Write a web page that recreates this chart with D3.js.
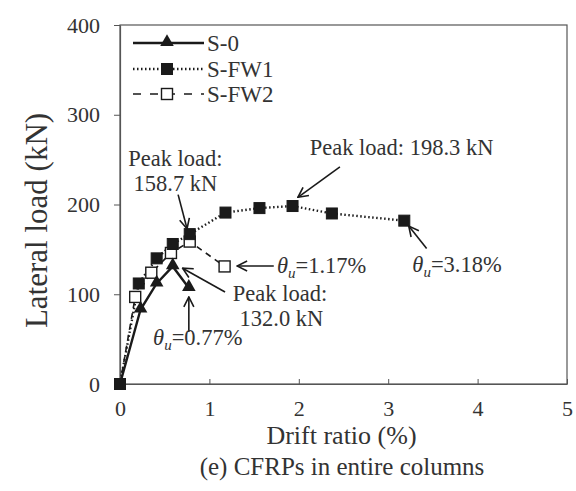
<!DOCTYPE html>
<html>
<head>
<meta charset="utf-8">
<script src="https://cdn.jsdelivr.net/npm/d3@7"></script>
<style>
  body { margin: 0; background: #fff; }
  svg text { font-family: "Liberation Serif", "Times New Roman", serif; fill: #333; }
</style>
</head>
<body>
<script>
'use strict';

// drift ratio (%) and lateral load (kN)
const s0Drift = [0, 0.23, 0.41, 0.59, 0.77];
const s0Load = [0, 83, 112, 131, 107];

const fw1Drift = [0, 0.21, 0.41, 0.59, 0.78, 1.18, 1.56, 1.93, 2.37, 3.18];
const fw1Load = [0, 112, 140, 156, 167, 191, 196, 198.3, 190, 182];

const fw2Drift = [0, 0.17, 0.35, 0.57, 0.78, 1.17];
const fw2Load = [0, 97, 124, 146, 158.7, 131];

const xTicks = [0, 1, 2, 3, 4, 5];
const yTicks = [0, 100, 200, 300, 400];

const seriesNames = ['S-0', 'S-FW1', 'S-FW2'];

const W = 576, H = 491;
const ink = '#1a1a1a';
const serif = '"Liberation Serif", "Times New Roman", serif';

const svg = d3.select('body').append('svg')
  .attr('width', W)
  .attr('height', H)
  .attr('font-family', serif);

const x = d3.scaleLinear().domain([0, 5]).range([120, 567]);
const y = d3.scaleLinear().domain([0, 400]).range([384, 25]);

// open arrowhead
svg.append('defs').append('marker')
  .attr('id', 'arr')
  .attr('viewBox', '0 0 12 12')
  .attr('refX', 11).attr('refY', 6)
  .attr('markerWidth', 12).attr('markerHeight', 12)
  .attr('markerUnits', 'userSpaceOnUse')
  .attr('orient', 'auto')
  .append('path')
  .attr('d', 'M1,1 L11,6 L1,11')
  .attr('fill', 'none')
  .attr('stroke', ink)
  .attr('stroke-width', 1.6);

// frame
svg.append('rect')
  .attr('x', x(0)).attr('y', y(400))
  .attr('width', x(5) - x(0)).attr('height', y(0) - y(400))
  .attr('fill', 'none').attr('stroke', '#555').attr('stroke-width', 1.2);

// x axis, ticks pointing inward
const xAxis = svg.append('g')
  .attr('transform', `translate(0,${y(0)})`)
  .call(d3.axisBottom(x).tickValues(xTicks).tickFormat(d3.format('d'))
    .tickSizeInner(-5).tickSizeOuter(0).tickPadding(16));
xAxis.attr('font-family', serif);
xAxis.select('.domain').attr('stroke', '#555').attr('stroke-width', 1.2);
xAxis.selectAll('line').attr('stroke', '#555');
xAxis.selectAll('text').style('font-size', '22px').attr('fill', '#333');

// y axis, ticks pointing outward
const yAxis = svg.append('g')
  .attr('transform', `translate(${x(0)},0)`)
  .call(d3.axisLeft(y).tickValues(yTicks).tickFormat(d3.format('d'))
    .tickSizeInner(6).tickSizeOuter(0).tickPadding(14));
yAxis.attr('font-family', serif);
yAxis.select('.domain').attr('stroke', '#555').attr('stroke-width', 1.2);
yAxis.selectAll('line').attr('stroke', '#555');
yAxis.selectAll('text').style('font-size', '22px').attr('fill', '#333');

// axis titles
svg.append('text')
  .attr('x', (x(0) + x(5)) / 2 - 2).attr('y', 444)
  .attr('text-anchor', 'middle')
  .style('font-size', '26px')
  .text('Drift ratio (%)');

svg.append('text')
  .attr('transform', `translate(47,${(y(0) + y(400)) / 2 + 16})rotate(-90)`)
  .attr('text-anchor', 'middle')
  .style('font-size', '31px')
  .text('Lateral load (kN)');

svg.append('text')
  .attr('x', 342).attr('y', 475)
  .attr('text-anchor', 'middle')
  .style('font-size', '25px')
  .text('(e) CFRPs in entire columns');

// series
function pts(xs, ys) { return xs.map((d, i) => [d, ys[i]]); }
const line = d3.line().x(d => x(d[0])).y(d => y(d[1]));

const s0 = pts(s0Drift, s0Load);
const fw1 = pts(fw1Drift, fw1Load);
const fw2 = pts(fw2Drift, fw2Load);

svg.append('path').datum(fw2).attr('d', line)
  .attr('fill', 'none').attr('stroke', ink).attr('stroke-width', 1.6)
  .attr('stroke-dasharray', '6,5');
svg.append('path').datum(fw1).attr('d', line)
  .attr('fill', 'none').attr('stroke', ink).attr('stroke-width', 2.4)
  .attr('stroke-dasharray', '1.5,2.5');
svg.append('path').datum(s0).attr('d', line)
  .attr('fill', 'none').attr('stroke', ink).attr('stroke-width', 2.4);

const sq = 11;
function squares(data, filled) {
  svg.append('g').selectAll('rect').data(data).enter().append('rect')
    .attr('x', d => x(d[0]) - sq / 2)
    .attr('y', d => y(d[1]) - sq / 2)
    .attr('width', sq).attr('height', sq)
    .attr('fill', filled ? ink : '#fff')
    .attr('stroke', ink).attr('stroke-width', filled ? 1 : 1.4);
}
const tri = d3.symbol().type(d3.symbolTriangle).size(80);

squares(fw2.slice(1), false);
squares(fw1, true);
svg.append('g').selectAll('path').data(s0.slice(1)).enter().append('path')
  .attr('d', tri)
  .attr('transform', d => `translate(${x(d[0])},${y(d[1]) - 1})`)
  .attr('fill', ink);

// legend
const legRows = [43, 69, 94];
const lg = svg.append('g');
seriesNames.forEach((name, i) => {
  const ly = legRows[i];
  const ln = lg.append('line')
    .attr('x1', 133).attr('x2', 204).attr('y1', ly).attr('y2', ly)
    .attr('stroke', ink);
  if (i === 0) ln.attr('stroke-width', 2.4);
  if (i === 1) ln.attr('stroke-width', 2.4).attr('stroke-dasharray', '1.5,2.5');
  if (i === 2) ln.attr('stroke-width', 1.6).attr('stroke-dasharray', '8,9');
  if (i === 0) {
    lg.append('path').attr('d', tri).attr('transform', `translate(167,${ly - 1})`).attr('fill', ink);
  } else {
    lg.append('rect')
      .attr('x', 167 - sq / 2).attr('y', ly - sq / 2)
      .attr('width', sq).attr('height', sq)
      .attr('fill', i === 1 ? ink : '#fff')
      .attr('stroke', ink).attr('stroke-width', i === 1 ? 1 : 1.4);
  }
  lg.append('text')
    .attr('x', 207).attr('y', ly + 8)
    .style('font-size', '23px')
    .text(name);
});

// annotations (positions in data units)
const arrows = [
  [0.65, 211, 0.75, 173],
  [2.46, 242, 1.99, 208],
  [3.43, 151, 3.23, 176],
  [1.72, 131.5, 1.31, 131.5],
  [1.175, 102.5, 0.70, 129],
  [0.77, 58, 0.77, 97]
];
svg.append('g').selectAll('line').data(arrows).enter().append('line')
  .attr('x1', d => x(d[0])).attr('y1', d => y(d[1]))
  .attr('x2', d => x(d[2])).attr('y2', d => y(d[3]))
  .attr('stroke', ink).attr('stroke-width', 1.6)
  .attr('marker-end', 'url(#arr)');

const notes = [
  { t: 'Peak load:', dx: 0.62, dy: 243 },
  { t: '158.7 kN', dx: 0.62, dy: 215 },
  { t: 'Peak load: 198.3 kN', dx: 3.15, dy: 255 },
  { t: 'Peak load:', dx: 1.79, dy: 92 },
  { t: '132.0 kN', dx: 1.806, dy: 65 }
];
notes.forEach(n => {
  svg.append('text')
    .attr('x', x(n.dx)).attr('y', y(n.dy))
    .attr('text-anchor', 'middle')
    .style('font-size', '22.5px')
    .text(n.t);
});

const thetas = [
  { v: '=3.18%', dx: 3.27, dy: 125 },
  { v: '=1.17%', dx: 1.756, dy: 124 },
  { v: '=0.77%', dx: 0.37, dy: 43 }
];
thetas.forEach(n => {
  const t = svg.append('text')
    .attr('x', x(n.dx)).attr('y', y(n.dy))
    .style('font-size', '22.5px');
  t.append('tspan').style('font-style', 'italic').text('θ');
  t.append('tspan').style('font-style', 'italic').style('font-size', '15px').attr('dy', 5).text('u');
  t.append('tspan').attr('dy', -5).text(n.v);
});
</script>
</body>
</html>
